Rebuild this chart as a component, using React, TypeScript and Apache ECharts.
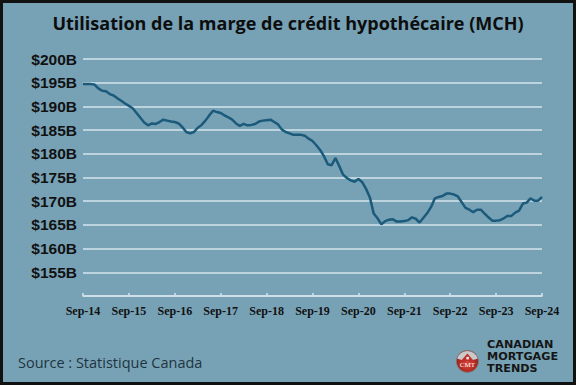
import React, { useEffect, useRef } from "react";
import * as echarts from "echarts";

const monthNames = ["Jan", "Feb", "Mar", "Apr", "May", "Jun", "Jul", "Aug", "Sep", "Oct", "Nov", "Dec"];
const startYear = 2014;
const startMonth = 8; // Sep

// Mortgage HELOC balance, billions CAD, monthly Sep-14 .. Sep-24
const helocValues = [
  194.7, 194.7, 194.7, 194.6, 193.8, 193.3, 193.2, 192.6, 192.3, 191.7, 191.2, 190.6,
  190.1, 189.6, 188.6, 187.6, 186.6, 186.0, 186.4, 186.3, 186.7, 187.2, 187.0, 186.8,
  186.7, 186.4, 185.6, 184.6, 184.3, 184.6, 185.5, 186.1, 187.0, 188.1, 189.1, 188.8,
  188.6, 188.1, 187.7, 187.2, 186.4, 185.9, 186.3, 186.0, 186.1, 186.3, 186.8, 187.0,
  187.1, 187.2, 186.7, 186.2, 185.1, 184.6, 184.3, 184.0, 184.0, 184.0, 183.8, 183.2,
  182.7, 181.8, 180.8, 179.5, 177.8, 177.6, 179.1, 177.4, 175.6, 174.9, 174.4, 174.1,
  174.7, 174.0, 172.6, 170.8, 167.4, 166.4, 165.1, 165.8, 166.1, 166.2, 165.7, 165.7,
  165.8, 166.0, 166.6, 166.3, 165.5, 166.5, 167.5, 168.8, 170.6, 170.9, 171.1, 171.6,
  171.6, 171.4, 171.0, 169.8, 168.6, 168.2, 167.7, 168.2, 168.2, 167.4, 166.6, 165.9,
  165.9, 166.0, 166.4, 166.9, 166.9, 167.6, 168.0, 169.5, 169.7, 170.6, 170.1, 170.1,
  170.9,
];

const yMin = 150;
const yMax = 200;
const yStep = 5;

const categories: string[] = helocValues.map((_, i) => {
  const m = (startMonth + i) % 12;
  const y = startYear + Math.floor((startMonth + i) / 12);
  return `${monthNames[m]}-${String(y).slice(2)}`;
});

const TITLE = "Utilisation de la marge de crédit hypothécaire (MCH)";
const SOURCE = "Source : Statistique Canada";
const LOGO_LINES = ["CANADIAN", "MORTGAGE", "TRENDS"];

export default function App() {
  const ref = useRef<HTMLDivElement>(null);
  useEffect(() => {
    document.body.style.margin = "0";
    if (!ref.current) return;
    const chart = echarts.init(ref.current, null, { renderer: "svg" });
    chart.setOption({
      animation: false,
      backgroundColor: "#77a2b6",
      title: {
        text: TITLE,
        left: "center",
        top: 9,
        textStyle: {
          fontFamily: "Open Sans",
          fontWeight: "bold",
          fontSize: 18,
          color: "#0d0d0d",
        },
      },
      grid: { left: 83, right: 34, top: 59, bottom: 89 },
      xAxis: {
        type: "category",
        data: categories,
        boundaryGap: false,
        axisLine: { lineStyle: { color: "#d4e3ea", width: 1.5 } },
        axisTick: {
          inside: true,
          length: 3,
          interval: 11,
          lineStyle: { color: "#d4e3ea", width: 1.5 },
        },
        axisLabel: {
          interval: 11,
          margin: 9,
          fontFamily: "Liberation Sans Narrow",
          fontWeight: "bold",
          fontSize: 12,
          color: "#111",
        },
        splitLine: { show: false },
      },
      yAxis: {
        type: "value",
        min: yMin,
        max: yMax,
        interval: yStep,
        axisLine: { show: false },
        axisTick: { show: false },
        axisLabel: {
          margin: 6,
          fontFamily: "Liberation Sans",
          fontWeight: "bold",
          fontSize: 15.5,
          color: "#111",
          formatter: (v: number) => (v === yMin ? "" : `$${v}B`),
        },
        splitLine: { lineStyle: { color: "#d4e3ea", width: 1.5 } },
      },
      series: [
        {
          type: "line",
          data: helocValues,
          showSymbol: false,
          lineStyle: { color: "#1b5a7a", width: 2.5 },
          itemStyle: { color: "#1b5a7a" },
        },
      ],
      graphic: [
        {
          type: "text",
          left: 18,
          top: 355,
          style: {
            text: SOURCE,
            fontFamily: "Open Sans",
            fontSize: 14.5,
            fill: "#1f3440",
          },
        },
        {
          type: "group",
          left: 456,
          top: 350,
          children: [
            {
              type: "circle",
              shape: { cx: 11, cy: 12, r: 11 },
              style: {
                fill: new echarts.graphic.RadialGradient(0.5, 0.6, 0.6, [
                  { offset: 0, color: "#e0453a" },
                  { offset: 1, color: "#8e1a14" },
                ]),
                stroke: "#7a7a7a",
                lineWidth: 0.8,
              },
            },
            {
              type: "sector",
              shape: { cx: 11, cy: 12, r: 10.5, r0: 0, startAngle: Math.PI * 1.08, endAngle: Math.PI * 1.92 },
              style: { fill: "#c9c9c9" },
            },
            {
              type: "polygon",
              shape: { points: [[4, 12], [11, 4], [18, 12]] },
              style: { fill: "#c0302a" },
            },
            {
              type: "rect",
              shape: { x: 10, y: 7.5, width: 2.5, height: 2.5 },
              style: { fill: "#eeeeee" },
            },
            {
              type: "text",
              x: 11,
              y: 16,
              style: {
                text: "CMT",
                fontFamily: "Liberation Sans Narrow",
                fontSize: 7,
                fill: "#ffffff",
                align: "center",
                verticalAlign: "middle",
              },
            },
          ],
        },
        ...LOGO_LINES.map((t, i) => ({
          type: "text",
          x: 487,
          y: 340 + i * 11.7,
          scaleX: 1.12,
          style: {
            text: t,
            fontFamily: "DejaVu Sans",
            fontWeight: "bold",
            fontSize: 10,
            lineHeight: 10,
            fill: "#151515",
          },
        })),
        {
          type: "rect",
          shape: { x: 1.5, y: 1.5, width: 573, height: 382 },
          style: { fill: "none", stroke: "#111", lineWidth: 3 },
          silent: true,
        },
      ],
    });
    return () => chart.dispose();
  }, []);
  return (
    <div
      ref={ref}
      style={{ position: "absolute", left: 0, top: 0, width: 576, height: 385 }}
    />
  );
}
